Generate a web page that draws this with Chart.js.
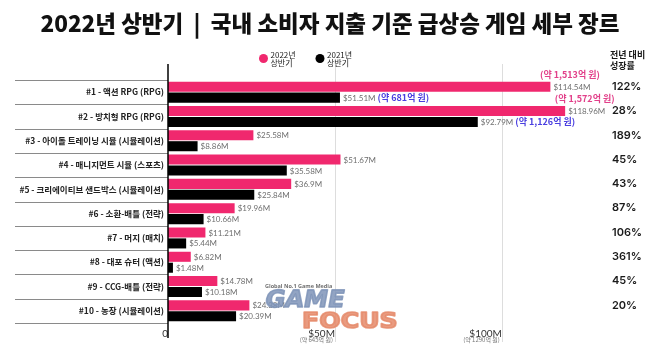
<!DOCTYPE html>
<html>
<head>
<meta charset="utf-8">
<script src="https://cdn.jsdelivr.net/npm/chart.js@4.4.0/dist/chart.umd.min.js"></script>
<style>
  html, body { margin: 0; padding: 0; background: #ffffff; }
  #wrap { width: 660px; height: 345px; position: relative; }
</style>
</head>
<body>
<div id="wrap"><canvas id="chart" width="660" height="345"></canvas></div>
<script>
// Genres ranked by H1 2022 domestic consumer spending
const genres = [
  '#1 - 액션 RPG (RPG)',
  '#2 - 방치형 RPG (RPG)',
  '#3 - 아이돌 트레이닝 시뮬 (시뮬레이션)',
  '#4 - 매니지먼트 시뮬 (스포츠)',
  '#5 - 크리에이티브 샌드박스 (시뮬레이션)',
  '#6 - 소환-배틀 (전략)',
  '#7 - 머지 (매치)',
  '#8 - 대포 슈터 (액션)',
  '#9 - CCG-배틀 (전략)',
  '#10 - 농장 (시뮬레이션)'
];
// Spending in millions of USD
const sales2022 = [114.54, 118.96, 25.58, 51.67, 36.9, 19.96, 11.21, 6.82, 14.78, 24.38];
const sales2021 = [51.51, 92.79, 8.86, 35.58, 25.84, 10.66, 5.44, 1.48, 10.18, 20.39];
// KRW equivalents shown for the top two genres
const krw2022 = ['(약 1,513억 원)', '(약 1,572억 원)', '', '', '', '', '', '', '', ''];
const krw2021 = ['(약 681억 원)', '(약 1,126억 원)', '', '', '', '', '', '', '', ''];
// Year-over-year growth
const growth = ['122%', '28%', '189%', '45%', '43%', '87%', '106%', '361%', '45%', '20%'];
// X axis ticks and their KRW notes
const xTicks = [0, 50, 100];
const xTickNotes = ['', '(약 645억 원)', '(약 1290억 원)'];

const PINK = '#f0286e';
const BLACK = '#000000';
const KR = '"Noto Sans CJK KR", "Noto Sans", sans-serif';

const decorations = {
  id: 'decorations',
  beforeDatasetsDraw(chart) {
    const { ctx } = chart;
    const x = chart.scales.x;
    const y = chart.scales.y;
    ctx.save();
    // vertical grid lines
    ctx.strokeStyle = '#dddddd';
    ctx.lineWidth = 1;
    xTicks.forEach(v => {
      if (v === 0) return;
      const px = Math.round(x.getPixelForValue(v)) + 0.5;
      ctx.beginPath();
      ctx.moveTo(px, 64);
      ctx.lineTo(px, 342);
      ctx.stroke();
    });
    // row separators in the label column
    ctx.strokeStyle = '#8a8a8a';
    const step = y.getPixelForValue(1) - y.getPixelForValue(0);
    for (let i = 0; i <= genres.length; i++) {
      const py = Math.round(y.getPixelForValue(i) - step / 2) + 0.5;
      ctx.beginPath();
      ctx.moveTo(15, py);
      ctx.lineTo(x.getPixelForValue(0), py);
      ctx.stroke();
    }
    ctx.restore();
  },
  afterDatasetsDraw(chart) {
    const { ctx } = chart;
    const x = chart.scales.x;
    ctx.save();

    // zero axis line
    const zx = x.getPixelForValue(0);
    ctx.strokeStyle = '#000';
    ctx.lineWidth = 1.5;
    ctx.beginPath();
    ctx.moveTo(zx, 64);
    ctx.lineTo(zx, 338);
    ctx.stroke();

    // value labels
    const m0 = chart.getDatasetMeta(0).data;
    const m1 = chart.getDatasetMeta(1).data;
    ctx.textBaseline = 'middle';
    ctx.textAlign = 'left';
    const drawValue = (bar, v, note, noteColor, above) => {
      const txt = '$' + v + 'M';
      ctx.font = '8px Lato, "Noto Sans", sans-serif';
      ctx.fillStyle = '#6e6e6e';
      ctx.textAlign = 'left';
      const tx = bar.x + 3;
      ctx.fillText(txt, tx, bar.y + 0.5);
      const w = ctx.measureText(txt).width;
      if (note) {
        ctx.font = 'bold 9px ' + KR;
        ctx.fillStyle = noteColor;
        if (above) {
          ctx.textAlign = 'center';
          ctx.fillText(note, tx + w / 2 - 2, bar.y - 12);
        } else {
          ctx.textAlign = 'left';
          ctx.fillText(note, tx + w + 2, bar.y);
        }
      }
    };
    m0.forEach((bar, i) => drawValue(bar, sales2022[i], krw2022[i], '#e2408a', true));
    m1.forEach((bar, i) => drawValue(bar, sales2021[i], krw2021[i], '#4a3fe0', false));

    // growth column
    ctx.textAlign = 'left';
    ctx.fillStyle = '#1a1a1a';
    ctx.font = 'bold 9px ' + KR;
    ctx.fillText('전년 대비', 610, 55);
    ctx.fillText('성장률', 610, 65.5);
    ctx.font = '600 11px Inter, "Noto Sans", sans-serif';
    m0.forEach((bar, i) => ctx.fillText(growth[i], 612, bar.y));

    // x tick KRW notes
    ctx.font = '6px ' + KR;
    ctx.fillStyle = '#777';
    ctx.textAlign = 'right';
    xTicks.forEach((v, i) => {
      if (!xTickNotes[i]) return;
      ctx.fillText(xTickNotes[i], x.getPixelForValue(v) - 2, 340);
    });

    // title
    ctx.fillStyle = '#111';
    ctx.textAlign = 'center';
    ctx.font = '900 22.5px ' + KR;
    ctx.fillText('2022년 상반기  |  국내 소비자 지출 기준 급상승 게임 세부 장르', 330, 23);

    // legend
    const legend = [
      { cx: 263.5, color: PINK, lines: ['2022년', '상반기'] },
      { cx: 320, color: BLACK, lines: ['2021년', '상반기'] }
    ];
    legend.forEach(l => {
      ctx.fillStyle = l.color;
      ctx.beginPath();
      ctx.arc(l.cx, 58.5, 4.5, 0, Math.PI * 2);
      ctx.fill();
      ctx.fillStyle = '#222';
      ctx.textAlign = 'left';
      ctx.font = '8px ' + KR;
      ctx.fillText(l.lines[0], l.cx + 7, 55);
      ctx.fillText(l.lines[1], l.cx + 7, 63);
    });

    // watermark
    ctx.globalAlpha = 0.85;
    ctx.fillStyle = '#555';
    ctx.font = 'bold 5.5px "Open Sans", sans-serif';
    ctx.textAlign = 'left';
    ctx.fillText('Global No.1 Game Media', 265, 286);
    ctx.textBaseline = 'alphabetic';
    ctx.lineJoin = 'round';
    ctx.fillStyle = '#7f94b9';
    ctx.strokeStyle = '#7f94b9';
    ctx.lineWidth = 1.6;
    ctx.font = 'bold 23.5px "DejaVu Sans", sans-serif';
    ctx.save();
    ctx.translate(264, 307);
    ctx.transform(1, 0, -0.18, 1, 0, 0);
    ctx.scale(1.03, 1);
    ctx.fillText('GAME', 0, 0);
    ctx.strokeText('GAME', 0, 0);
    ctx.restore();
    ctx.fillStyle = '#e5896a';
    ctx.strokeStyle = '#e5896a';
    ctx.font = 'bold 21px "DejaVu Sans", sans-serif';
    ctx.save();
    ctx.translate(302, 328);
    ctx.scale(1.2, 1);
    ctx.fillText('FOCUS', 0, 0);
    ctx.strokeText('FOCUS', 0, 0);
    ctx.restore();
    ctx.globalAlpha = 1;

    ctx.restore();
  }
};

new Chart(document.getElementById('chart'), {
  type: 'bar',
  data: {
    labels: genres,
    datasets: [
      { label: '2022년 상반기', data: sales2022, backgroundColor: PINK,
        categoryPercentage: 0.9, barPercentage: 0.92 },
      { label: '2021년 상반기', data: sales2021, backgroundColor: BLACK,
        categoryPercentage: 0.9, barPercentage: 0.92 }
    ]
  },
  options: {
    indexAxis: 'y',
    responsive: false,
    animation: false,
    devicePixelRatio: 1,
    layout: { padding: { left: 15, right: 58, top: 80, bottom: 0 } },
    plugins: { legend: { display: false }, tooltip: { enabled: false } },
    scales: {
      x: {
        min: 0,
        max: 130,
        afterBuildTicks: s => { s.ticks = xTicks.map(v => ({ value: v })); },
        afterFit: s => { s.height = 22; },
        grid: { display: false, drawTicks: false },
        border: { display: false },
        ticks: {
          align: 'end',
          padding: 5,
          color: '#333',
          font: { family: 'Lato, "Noto Sans", sans-serif', size: 10 },
          callback: v => (v === 0 ? '0' : '$' + v + 'M')
        }
      },
      y: {
        afterFit: s => { s.width = 153; },
        grid: { display: false, drawTicks: false },
        border: { display: false },
        ticks: {
          padding: 4,
          color: '#222',
          font: { family: KR, size: 8.5, weight: 'bold' }
        }
      }
    }
  },
  plugins: [decorations]
});
</script>
</body>
</html>
